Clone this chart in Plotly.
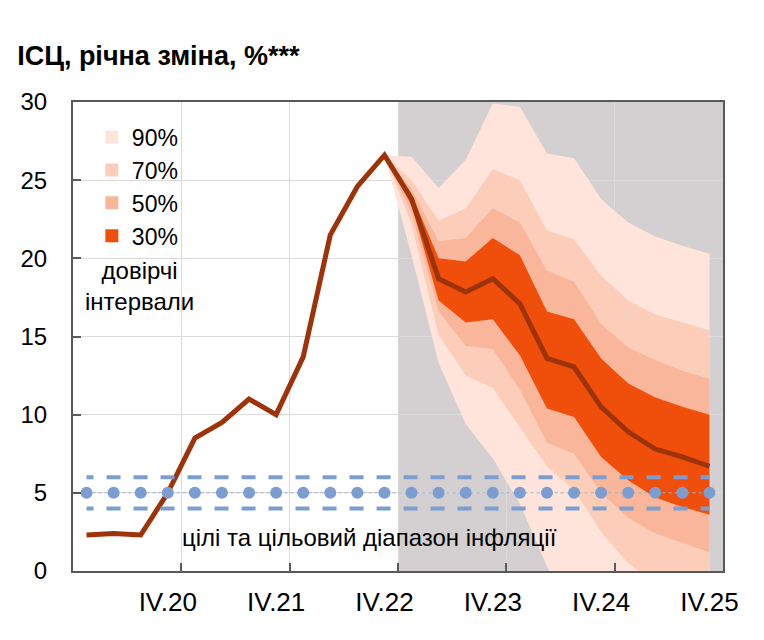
import plotly.graph_objects as go

# quarters on the x axis
quarters = ["I.20", "II.20", "III.20", "IV.20",
            "I.21", "II.21", "III.21", "IV.21",
            "I.22", "II.22", "III.22", "IV.22",
            "I.23", "II.23", "III.23", "IV.23",
            "I.24", "II.24", "III.24", "IV.24",
            "I.25", "II.25", "III.25", "IV.25"]

# CPI, % y/y: actual to IV.22, baseline forecast after
cpi = [2.3, 2.4, 2.3, 5.0, 8.5, 9.5, 11.0, 10.0, 13.7, 21.5, 24.6, 26.6,
       23.8, 18.7, 17.85, 18.7, 17.1, 13.6, 13.05, 10.5, 8.9, 7.8, 7.3, 6.7]

# fan chart, starts from the last actual point (IV.22)
fan_quarters = ["IV.22", "I.23", "II.23", "III.23", "IV.23", "I.24", "II.24",
                "III.24", "IV.24", "I.25", "II.25", "III.25", "IV.25"]
ci90_hi = [26.6, 26.5, 24.5, 26.3, 29.9, 29.7, 26.7, 26.4, 23.8, 22.3, 21.4, 20.8, 20.3]
ci70_hi = [26.6, 25.0, 22.4, 23.2, 25.7, 25.0, 21.8, 21.2, 18.9, 17.3, 16.4, 15.9, 15.4]
ci50_hi = [26.6, 24.4, 21.1, 21.3, 23.2, 22.3, 19.2, 18.5, 15.8, 14.3, 13.5, 12.8, 12.3]
ci30_hi = [26.6, 24.1, 20.0, 19.8, 21.3, 20.2, 16.6, 16.1, 13.6, 12.0, 11.1, 10.5, 10.0]
ci30_lo = [26.6, 23.4, 17.3, 15.9, 16.1, 13.8, 10.4, 9.85, 7.3, 5.8, 4.7, 4.1, 3.6]
ci50_lo = [26.6, 22.9, 16.6, 14.4, 14.2, 11.6, 8.2, 7.5, 5.0, 3.4, 2.4, 1.8, 1.2]
ci70_lo = [26.6, 22.2, 15.1, 12.5, 11.7, 9.2, 6.7, 5.2, 2.5, 0.5, -0.8, -1.5, -2.0]
ci90_lo = [26.6, 20.2, 13.3, 9.4, 7.2, 4.3, 0.3, -3.0, -5.0, -6.0, -7.0, -8.0, -8.5]

# inflation target and target range
target = [5, 5, 5, 5, 5, 5, 5, 5, 5, 5, 5, 5, 5, 5, 5, 5, 5, 5, 5, 5, 5, 5, 5, 5]
target_lo = [4, 4, 4, 4, 4, 4, 4, 4, 4, 4, 4, 4, 4, 4, 4, 4, 4, 4, 4, 4, 4, 4, 4, 4]
target_hi = [6, 6, 6, 6, 6, 6, 6, 6, 6, 6, 6, 6, 6, 6, 6, 6, 6, 6, 6, 6, 6, 6, 6, 6]

pos = {q: i for i, q in enumerate(quarters)}
x = [pos[q] for q in quarters]
fx = [pos[q] for q in fan_quarters]

FONT = "Arial, Liberation Sans, sans-serif"
BLUE = "#7C9DD0"
AXIS = "#595959"
GRID = "#DADADA"

fig = go.Figure()

bands = [("90%", ci90_lo, ci90_hi, "#FEE4DA"),
         ("70%", ci70_lo, ci70_hi, "#FCCDB9"),
         ("50%", ci50_lo, ci50_hi, "#F9B69A"),
         ("30%", ci30_lo, ci30_hi, "#EF4F0B")]

for name, lo, hi, col in bands:
    fig.add_trace(go.Scatter(x=fx + fx[::-1], y=hi + lo[::-1], fill="toself",
                             fillcolor=col, mode="lines", line=dict(width=0),
                             hoverinfo="skip", showlegend=False))

fig.add_trace(go.Scatter(x=x, y=cpi, mode="lines",
                         line=dict(color="#9E3208", width=5),
                         showlegend=False))

fig.add_trace(go.Scatter(x=x, y=target_hi, mode="lines",
                         line=dict(color=BLUE, width=4, dash="7px,13px,7px,0px"),
                         showlegend=False))
fig.add_trace(go.Scatter(x=x, y=target_lo, mode="lines",
                         line=dict(color=BLUE, width=4, dash="7px,13px,7px,0px"),
                         showlegend=False))
fig.add_trace(go.Scatter(x=x, y=target, mode="lines+markers",
                         line=dict(color="#A9AFBA", width=1, dash="dot"),
                         marker=dict(color=BLUE, size=12),
                         showlegend=False))

# legend squares
for name, lo, hi, col in bands:
    fig.add_trace(go.Scatter(x=[None], y=[None], mode="markers", name=name,
                             marker=dict(symbol="square", size=13, color=col)))

# forecast period shading
fig.add_shape(type="rect", xref="x", yref="paper",
              x0=pos["IV.22"] + 0.5, x1=len(quarters) - 0.5, y0=0, y1=1,
              fillcolor="#D4D0D1", line=dict(width=0), layer="below")

year_ticks = [pos[q] for q in quarters if q.startswith("IV")]

fig.add_annotation(text="довірчі<br>інтервали", xref="paper", yref="y",
                   x=0.102, y=18.2, xanchor="center", showarrow=False, align="center",
                   font=dict(size=24, color="black", family=FONT))
fig.add_annotation(text="цілі та цільовий діапазон інфляції", xref="paper", yref="y",
                   x=0.165, y=2.15, xanchor="left", showarrow=False,
                   font=dict(size=24, color="black", family=FONT))

fig.update_layout(
    width=764, height=640,
    margin=dict(l=65, r=49, t=94, b=77),
    paper_bgcolor="white", plot_bgcolor="white",
    font=dict(family=FONT, size=22, color="black"),
    title=dict(text="<b>ІСЦ, річна зміна, %***</b>", x=0.012, xanchor="left",
               y=0.925, yanchor="middle", font=dict(size=27, color="black")),
    legend=dict(x=0.029, y=0.971, xanchor="left", yanchor="top",
                bgcolor="rgba(0,0,0,0)", font=dict(size=23),
                traceorder="normal"),
    xaxis=dict(range=[-0.5, len(quarters) - 0.5], tickvals=year_ticks,
               ticktext=[quarters[i] for i in year_ticks], ticks="",
               showgrid=False, zeroline=False, showline=True, linecolor=AXIS,
               linewidth=2, mirror=True, tickfont=dict(size=26),
               ticklabelstandoff=7,
               minor=dict(tickvals=[t + 0.5 for t in year_ticks[:-1]],
                          ticks="inside", ticklen=8, tickcolor=AXIS, tickwidth=1.5,
                          showgrid=True, gridcolor=GRID, gridwidth=1)),
    yaxis=dict(range=[0, 30], dtick=5, ticks="inside", ticklen=8, tickcolor=AXIS,
               tickwidth=1.5, showgrid=True, gridcolor=GRID, gridwidth=1,
               zeroline=False, showline=True, linecolor=AXIS, linewidth=2,
               mirror=True, tickfont=dict(size=24), ticklabelstandoff=19),
)

fig.write_html("out.html")
